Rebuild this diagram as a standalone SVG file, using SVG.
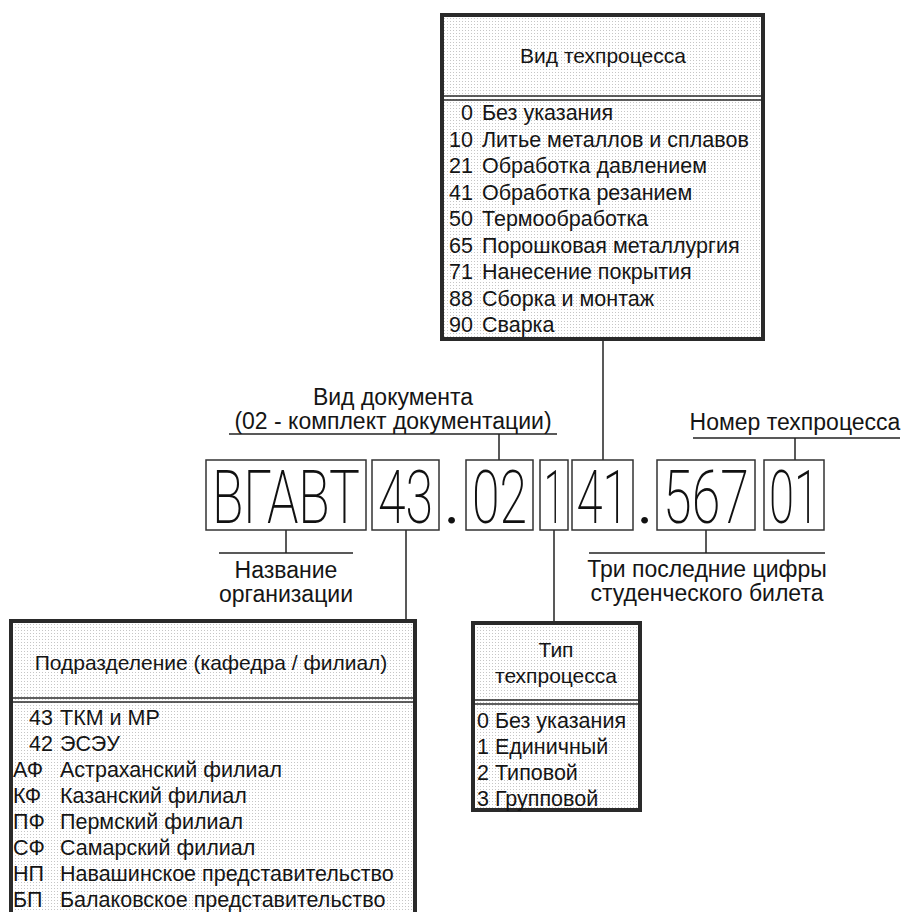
<svg xmlns="http://www.w3.org/2000/svg" width="903" height="912" viewBox="0 0 903 912">
<style>
.box{fill:url(#dots);stroke:#2a2a2a;stroke-width:4}
.sep{stroke:#2a2a2a;stroke-width:1.6}
.t{font-family:"Liberation Sans",Arial,sans-serif;font-size:21.5px;fill:#151515}
.tt{font-family:"Liberation Sans",Arial,sans-serif;font-size:21px;fill:#151515;text-anchor:middle}
.lbl{font-family:"Liberation Sans",Arial,sans-serif;font-size:23px;fill:#151515;text-anchor:middle}
.num{text-anchor:end}
.cb{fill:#fff;stroke:#333;stroke-width:1.5}
.big{font-family:Roboto,"DejaVu Sans",sans-serif;font-weight:200;font-size:75px;fill:#111;text-anchor:middle}
.dot{font-family:Roboto,"DejaVu Sans",sans-serif;font-weight:400;font-size:60px;fill:#111;text-anchor:middle}
.conn{stroke:#222;stroke-width:1.5;fill:none}
</style>
<defs>
<pattern id="dots" width="3" height="3" patternUnits="userSpaceOnUse">
<rect width="3" height="3" fill="#fff"/>
<rect width="1" height="1" fill="#c6c6c6"/>
</pattern>
</defs>
<rect width="903" height="912" fill="#fff"/>

<g id="connectors">
<line class="conn" x1="603" y1="339" x2="603" y2="460"/>
<line class="conn" x1="229" y1="434" x2="557" y2="434"/>
<line class="conn" x1="499" y1="434" x2="499" y2="460"/>
<line class="conn" x1="693" y1="438" x2="900" y2="438"/>
<line class="conn" x1="795" y1="438" x2="795" y2="460"/>
<line class="conn" x1="219" y1="553" x2="353" y2="553"/>
<line class="conn" x1="286" y1="530" x2="286" y2="553"/>
<line class="conn" x1="589" y1="553" x2="825" y2="553"/>
<line class="conn" x1="706" y1="530" x2="706" y2="553"/>
<line class="conn" x1="406" y1="530" x2="406" y2="619"/>
<line class="conn" x1="554" y1="530" x2="554" y2="621"/>
</g>

<g id="vid-tehprocessa">
<rect class="box" x="442" y="15" width="321" height="324"/>
<line class="sep" x1="442" y1="96" x2="763" y2="96"/>
<line class="sep" x1="442" y1="100" x2="763" y2="100"/>
<text class="tt" x="603" y="63">Вид техпроцесса</text>
<g class="t">
<text class="num" x="473" y="120">0</text><text x="482" y="120">Без указания</text>
<text class="num" x="473" y="146.5">10</text><text x="482" y="146.5">Литье металлов и сплавов</text>
<text class="num" x="473" y="173">21</text><text x="482" y="173">Обработка давлением</text>
<text class="num" x="473" y="199.5">41</text><text x="482" y="199.5">Обработка резанием</text>
<text class="num" x="473" y="226">50</text><text x="482" y="226">Термообработка</text>
<text class="num" x="473" y="252.5">65</text><text x="482" y="252.5">Порошковая металлургия</text>
<text class="num" x="473" y="279">71</text><text x="482" y="279">Нанесение покрытия</text>
<text class="num" x="473" y="305.5">88</text><text x="482" y="305.5">Сборка и монтаж</text>
<text class="num" x="473" y="332">90</text><text x="482" y="332">Сварка</text>
</g>
</g>

<g id="label-vid-dokumenta">
<text class="lbl" x="393" y="405">Вид документа</text>
<text class="lbl" x="393" y="429">(02 - комплект документации)</text>
</g>

<g id="label-nomer">
<text class="lbl" x="795" y="430">Номер техпроцесса</text>
</g>

<g id="code">
<rect class="cb" x="206" y="460" width="160" height="70"/>
<text class="big" transform="translate(286,523) scale(0.5,1)" textLength="296" lengthAdjust="spacingAndGlyphs">ВГАВТ</text>
<rect class="cb" x="372" y="460" width="67" height="70"/>
<text class="big" transform="translate(405.5,523) scale(0.5,1)" textLength="110" lengthAdjust="spacingAndGlyphs">43</text>
<text class="dot" x="452" y="523">.</text>
<rect class="cb" x="466" y="460" width="67" height="70"/>
<text class="big" transform="translate(499.5,523) scale(0.5,1)" textLength="110" lengthAdjust="spacingAndGlyphs">02</text>
<rect class="cb" x="540" y="460" width="28" height="70"/>
<text class="big" transform="translate(554,523) scale(0.5,1)" textLength="40" lengthAdjust="spacingAndGlyphs">1</text>
<rect class="cb" x="572" y="460" width="61" height="70"/>
<text class="big" transform="translate(602.5,523) scale(0.5,1)" textLength="104" lengthAdjust="spacingAndGlyphs">41</text>
<text class="dot" x="645" y="523">.</text>
<rect class="cb" x="657" y="460" width="98" height="70"/>
<text class="big" transform="translate(706,523) scale(0.5,1)" textLength="172" lengthAdjust="spacingAndGlyphs">567</text>
<rect class="cb" x="764" y="460" width="60" height="70"/>
<text class="big" transform="translate(794,523) scale(0.5,1)" textLength="100" lengthAdjust="spacingAndGlyphs">01</text>
</g>

<g id="label-nazvanie">
<text class="lbl" x="286" y="578">Название</text>
<text class="lbl" x="286" y="602">организации</text>
</g>

<g id="label-tri-cifry">
<text class="lbl" x="707" y="577">Три последние цифры</text>
<text class="lbl" x="707" y="601">студенческого билета</text>
</g>

<g id="podrazdelenie">
<rect class="box" x="11" y="621" width="404" height="300"/>
<line class="sep" x1="11" y1="698" x2="415" y2="698"/>
<line class="sep" x1="11" y1="702" x2="415" y2="702"/>
<text class="tt" x="211" y="670">Подразделение (кафедра / филиал)</text>
<g class="t">
<text class="num" x="53" y="725">43</text><text x="60" y="725">ТКМ и МР</text>
<text class="num" x="53" y="751">42</text><text x="60" y="751">ЭСЭУ</text>
<text x="13" y="777">АФ</text><text x="60" y="777">Астраханский филиал</text>
<text x="13" y="803">КФ</text><text x="60" y="803">Казанский филиал</text>
<text x="13" y="829">ПФ</text><text x="60" y="829">Пермский филиал</text>
<text x="13" y="855">СФ</text><text x="60" y="855">Самарский филиал</text>
<text x="13" y="881">НП</text><text x="60" y="881">Навашинское представительство</text>
<text x="13" y="907">БП</text><text x="60" y="907">Балаковское представительство</text>
</g>
</g>

<g id="tip-tehprocessa">
<rect class="box" x="473" y="623" width="167" height="187"/>
<line class="sep" x1="473" y1="700" x2="640" y2="700"/>
<line class="sep" x1="473" y1="704" x2="640" y2="704"/>
<text class="tt" x="556" y="657">Тип</text>
<text class="tt" x="556" y="683">техпроцесса</text>
<g class="t">
<text x="477" y="728">0 Без указания</text>
<text x="477" y="754">1 Единичный</text>
<text x="477" y="780">2 Типовой</text>
<text x="477" y="806">3 Групповой</text>
</g>
</g>
</svg>
